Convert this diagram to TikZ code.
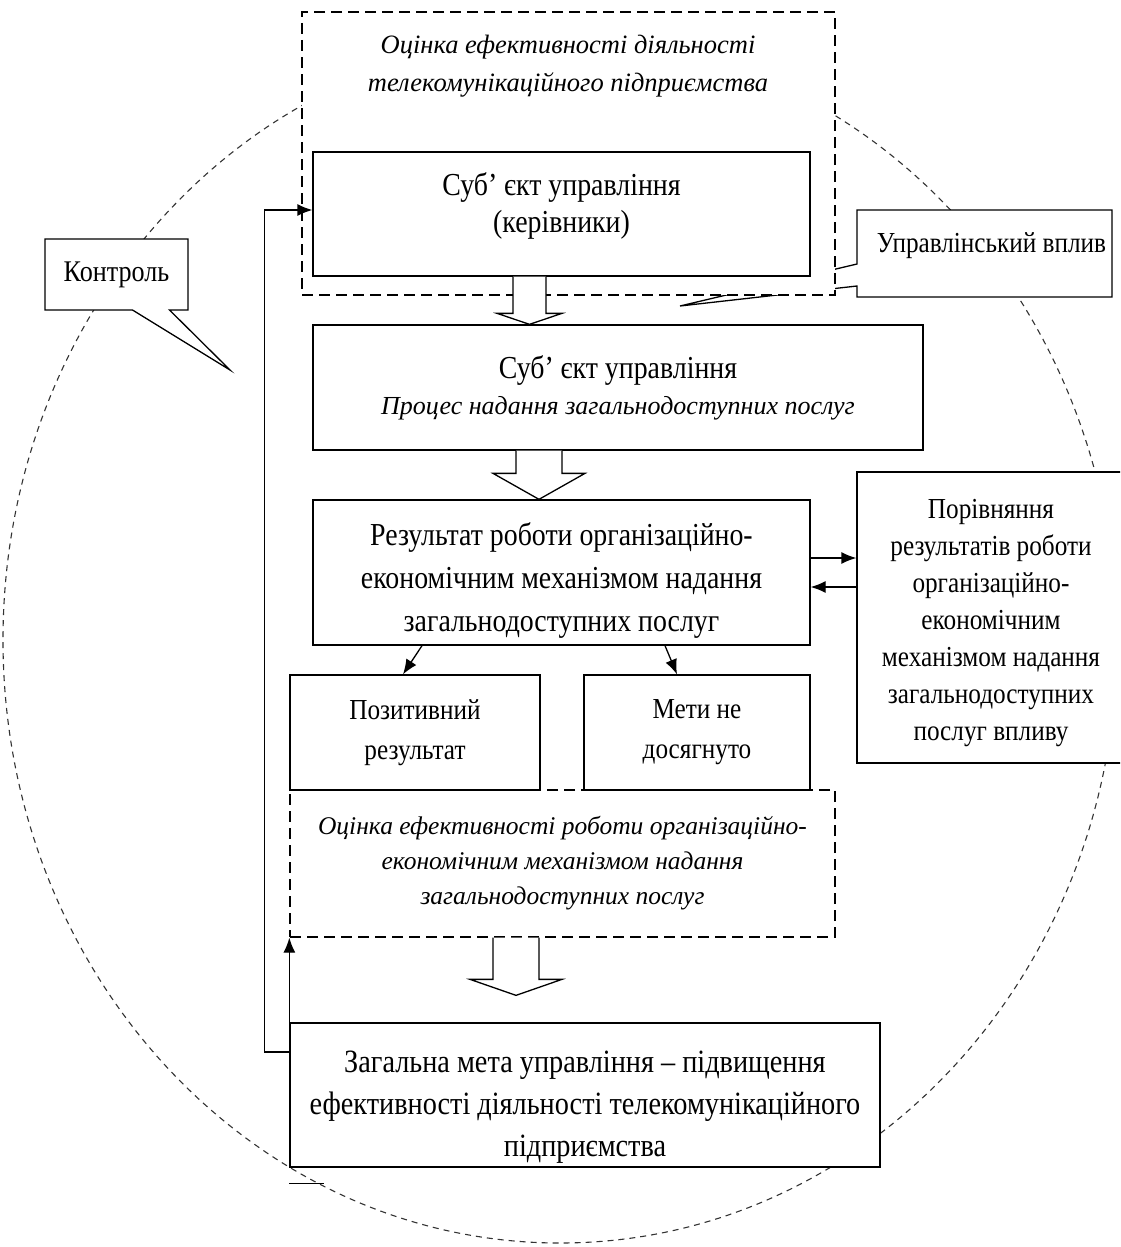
\documentclass[tikz,border=0pt]{standalone}
\usepackage{fontspec}
\setmainfont{Liberation Serif}[FakeStretch=0.87]
\newfontfamily\itfam{Liberation Serif}
\usetikzlibrary{arrows.meta, positioning, calc, shapes.callouts}

\newcommand\slant[1]{{\itfam\itshape #1}}
\newcommand\fs[2]{\fontsize{#1}{#2}\selectfont}
\newcommand\strutup[1]{\rule{0pt}{#1pt}}
\newcommand\strutdown[1]{\rule[-#1pt]{0pt}{#1pt}}
% block arrow: start, tip, shaft half width, head half width, head length
\newcommand\flowdown[5]{%
  \draw[flow] let \p1=(#1), \p2=(#2) in
    (\x1-#3pt,\y1) -- (\x1-#3pt,\y2+#5pt) -- (\x1-#4pt,\y2+#5pt) -- (\x1,\y2)
    -- (\x1+#4pt,\y2+#5pt) -- (\x1+#3pt,\y2+#5pt) -- (\x1+#3pt,\y1);}

\tikzset{
  box/.style={draw, line width=1.3pt, fill=white, align=center, inner sep=0pt,
    font=\fs{32}{43}},
  dashbox/.style={draw, line width=1.3pt, dash pattern=on 11pt off 6pt, fill=white,
    inner sep=0pt},
  slanttext/.style={align=center, inner sep=0pt, font=\fs{25.5}{35}},
  ring/.style={draw=black!80, line width=1.1pt, dash pattern=on 6pt off 5pt},
  callbox/.style={rectangle callout, draw, line width=1.3pt, fill=white, inner sep=0pt,
    font=\fs{30}{36}},
  flow/.style={draw, line width=1.3pt, fill=white},
  link/.style={->, line width=1.3pt}
}

\begin{document}
\begin{tikzpicture}[x=1pt,y=-1pt,>={Latex[length=15pt,width=12pt]}]
\useasboundingbox (0,0) rectangle (1120,1247);
\clip (0,0) rectangle (1120,1247);

% control loop
\draw[ring] (560,640) ellipse [x radius=557, y radius=603];

\node[callbox, minimum width=143pt, minimum height=71pt,
  callout absolute pointer={(230,370)}, callout pointer width=37pt]
  (control) at (116.5,274.5) {Контроль};
\node[callbox, minimum width=255pt, text height=42pt, text depth=45pt, font=\fs{29}{36},
  callout absolute pointer={(680,306)}, callout pointer width=22pt]
  (impact) at (984.5,253.5) {\hspace*{14pt}Управлінський вплив};

% evaluation of the enterprise
\node[dashbox, minimum width=533pt, minimum height=283pt] (evaltop) at (568.5,153.5) {};
\node[slanttext, font=\fs{26.5}{38}] (evaltext) at (568,66)
  {\slant{Оцінка ефективності діяльності}\\\slant{телекомунікаційного підприємства}};

\node[box, minimum width=497pt, minimum height=124pt, font=\fs{32}{37}] (subj) at (561.5,214)
  {Суб’ єкт управління\\(керівники)\strutdown{23}};
\node[box, minimum width=610pt, minimum height=125pt, font=\fs{32}{36}]
  (proc) at (618,387.5)
  {Суб’ єкт управління\\{\fs{26}{36}\slant{Процес надання загальнодоступних послуг}}};
\node[box, minimum width=497pt, minimum height=145pt]
  (result) at (561.5,572.5)
  {\strutup{38}Результат роботи організаційно-\\економічним механізмом надання\\загальнодоступних послуг};
\node[box, minimum width=268pt, minimum height=291pt, font=\fs{29}{37}]
  (compare) at (991,617.5)
  {\strutup{31}Порівняння\\результатів роботи\\організаційно-\\економічним\\механізмом надання\\загальнодоступних\\послуг впливу};

\node[dashbox, minimum width=545pt, minimum height=147pt] (evalmid) at (562.5,863.5) {};
\node[slanttext] at (evalmid.center)
  {\slant{Оцінка ефективності роботи організаційно-}\\\slant{економічним механізмом надання}\\\slant{загальнодоступних послуг}};

\node[box, minimum width=250pt, minimum height=115pt, font=\fs{29}{40}] (pos) at (415,732.5)
  {Позитивний\\результат};
\node[box, minimum width=226pt, minimum height=115pt, font=\fs{29}{40}] (fail) at (697,732.5)
  {Мети не\\досягнуто};

\node[box, minimum width=590pt, minimum height=144pt, font=\fs{32.5}{42}]
  (goal) at (585,1095)
  {\strutup{45}Загальна мета управління – підвищення\\ефективності діяльності телекомунікаційного\\підприємства};

% block arrows
\coordinate (a1) at ([xshift=-32pt]subj.south);
\coordinate (a2) at ([xshift=-79pt]proc.south);
\coordinate (a3) at ([xshift=-46.5pt]evalmid.south);
\flowdown{a1}{a1 |- proc.north}{16.5}{32.5}{11}
\flowdown{a2}{a2 |- result.north}{23}{46}{26}
\coordinate (a3t) at ([yshift=27pt]a3 |- goal.north);
\flowdown{a3}{a3t}{23}{46}{16}

% links
\path[link] ([xshift=-139.5pt]result.south) edge ([xshift=-12pt]pos.north);
\path[link] ([xshift=103.5pt]result.south) edge ([xshift=-20pt]fail.north);
\draw[link] ([yshift=14.5pt]result.east) -- ([yshift=14.5pt]result.east -| compare.west);
\draw[link] ([yshift=-14.5pt]result.east -| compare.west) -- ([yshift=-14.5pt]result.east);
\draw[link] ([yshift=43pt]goal.west) -- ++(-25,0) |- ([yshift=4pt]subj.west);
\draw[link] (goal.north west) -- (evalmid.south west);
\draw[line width=1.3pt] ([yshift=-16pt]goal.south west) -- ++(35,0);
\end{tikzpicture}
\end{document}
